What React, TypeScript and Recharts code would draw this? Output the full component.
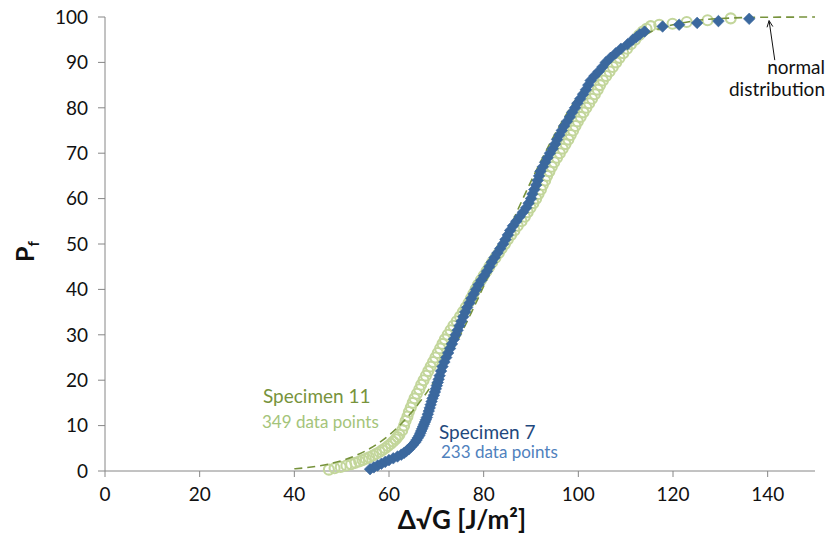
import React from "react";
import { ScatterChart, Scatter, XAxis, YAxis, ReferenceLine } from "recharts";

// Specimen 7 (blue diamonds): cumulative probability P_f [%] and Δ√G values
const spec7P = [0.4,0.8,1.2,1.6,2.0,2.4,2.8,3.2,3.6,4.0,4.4,4.8,5.3,5.8,6.3,6.8,7.3,7.8,8.3,8.8,9.3,9.8,10.3,10.8,11.3,11.8,12.5,13.2,13.9,14.6,15.3,16.0,16.7,17.4,18.1,18.8,19.5,20.2,21,22,23,24,25,26,27,28,29,30,31,32,33,34,35,36,37,38,39,40,41,42,43,44,45,46,47,48,49,50,51,52,53,54,55,56,57,58,59,60,61,62,63,64,65,66,67,68,69,70,71,72,73,74,75,76,77,78,79,80,81,82,83,84,85,86,87,88,89,90,91,92,93,94,95,95.6,96.2,96.8,97.9,98.3,98.7,99.1,99.6];
const spec7X = [56.0,56.8,57.6,58.4,59.2,60.0,60.9,61.8,62.6,63.2,63.7,64.2,64.6,65.1,65.5,65.8,66.1,66.4,66.6,66.8,67.0,67.2,67.4,67.6,67.8,68.0,68.2,68.4,68.6,68.8,69.0,69.2,69.5,69.7,69.9,70.1,70.3,70.5,70.7,71.0,71.3,71.7,72.1,72.5,72.9,73.3,73.7,74.1,74.5,74.9,75.3,75.7,76.1,76.5,77.0,77.4,77.9,78.4,78.9,79.5,80.1,80.7,81.2,81.7,82.3,82.9,83.5,84.1,84.6,85.1,85.6,86.2,86.9,87.6,88.3,89.0,89.5,90.0,90.3,90.7,91.1,91.4,91.7,92.0,92.5,93.0,93.5,94.0,94.6,95.1,95.5,96.0,96.5,97.0,97.6,98.2,98.7,99.3,99.8,100.4,101.0,101.6,102.1,102.6,103.4,104.3,105.1,105.8,106.8,107.9,109.0,110.4,111.5,112.3,113.0,114.0,117.8,121.3,125.1,129.6,136.1];

// Specimen 11 (green open circles)
const spec11P = [0.3,0.6,0.9,1.2,1.5,1.8,2.1,2.4,2.7,3.0,3.4,3.8,4.2,4.6,5.0,5.5,6.0,6.5,7.0,7.5,8,9,10,11,12,13,14,15,16,17,18,19,20,21,22,23,24,25,26,27,28,29,30,31,32,33,34,35,36,37,38,39,40,41,42,43,44,45,46,47,48,49,50,51,52,53,54,55,56,57,58,59,60,61,62,63,64,65,66,67,68,69,70,71,72,73,74,75,76,77,78,79,80,81,82,83,84,85,86,87,88,89,90,91,92,93,94,95,96,96.8,97.4,98.0,98.3,98.5,98.9,99.3,99.7];
const spec11X = [47.3,48.5,49.8,51.0,52.0,52.9,53.7,54.4,55.1,55.8,56.6,57.3,58.0,58.6,59.2,59.8,60.4,60.9,61.4,61.8,62.2,62.8,63.2,63.5,63.9,64.2,64.6,65.0,65.4,65.9,66.4,66.8,67.3,67.8,68.3,68.8,69.3,69.8,70.3,70.8,71.3,71.8,72.4,73.0,73.6,74.3,75.0,75.6,76.2,76.8,77.3,77.8,78.3,78.8,79.4,80.0,80.6,81.2,81.8,82.5,83.2,83.8,84.5,85.1,85.8,86.5,87.2,88.0,88.7,89.3,89.9,90.5,91.1,91.6,92.1,92.5,93.0,93.4,93.9,94.4,94.9,95.5,96.1,96.7,97.3,97.9,98.4,98.9,99.4,99.9,100.5,101.1,101.7,102.3,102.9,103.5,104.1,104.6,105.2,105.9,106.6,107.3,108.0,108.7,109.5,110.3,111.1,112.0,112.8,113.6,114.4,115.3,117.1,119.9,122.9,127.3,132.2];

// Normal distribution fit (dashed)
const normalX = [40,42.5,45,47.5,50,52.5,55,57.5,60,62.5,65,67.5,70,72.5,75,77.5,80,82.5,85,87.5,90,92.5,95,97.5,100,102.5,105,107.5,110,112.5,115,117.5,120,122.5,125,127.5,130,132.5,135,140,145,150];
const normalP = [0.48,0.73,1.09,1.59,2.28,3.19,4.40,5.95,7.90,10.3,13.2,16.6,20.5,24.9,29.8,35.1,40.7,46.5,52.3,58.2,63.8,69.1,74.1,78.6,82.7,86.2,89.2,91.7,93.7,95.3,96.6,97.6,98.3,98.8,99.2,99.5,99.66,99.78,99.87,99.95,99.98,99.99];

const xTicks = [0, 20, 40, 60, 80, 100, 120, 140];
const yTicks = [0, 10, 20, 30, 40, 50, 60, 70, 80, 90, 100];

const zip = (xs: number[], ys: number[]) => xs.map((x, i) => ({ x, y: ys[i] }));
const spec7 = zip(spec7X, spec7P);
const spec11 = zip(spec11X, spec11P);
const normal = zip(normalX, normalP);

const FONT = "Lato, 'Open Sans', sans-serif";
const AXIS = "#868686";
const TICK_FS = 19;

const Diamond = (props: any) => {
  const { cx, cy } = props;
  if (cx == null || cy == null) return <g />;
  const r = 5.8;
  return (
    <polygon
      points={`${cx},${cy - r} ${cx + r},${cy} ${cx},${cy + r} ${cx - r},${cy}`}
      fill="#3b689e"
      stroke="#3b689e"
      strokeWidth={0.6}
    />
  );
};

const Ring = (props: any) => {
  const { cx, cy } = props;
  if (cx == null || cy == null) return <g />;
  return <circle cx={cx} cy={cy} r={5} fill="none" stroke="#c3d69b" strokeWidth={2.1} />;
};

const NoShape = () => <g />;

const XTick = (p: any) => (
  <text x={p.x} y={p.y} dy={TICK_FS * 0.72} textAnchor="middle" fontSize={TICK_FS} fontFamily={FONT} fill="#111">
    {p.payload.value}
  </text>
);

const YTick = (p: any) => (
  <text x={p.x} y={p.y} dy={TICK_FS * 0.36} textAnchor="end" fontSize={TICK_FS} fontFamily={FONT} fill="#111">
    {p.payload.value}
  </text>
);

export default function App() {
  return (
    <div style={{ position: "absolute", left: 0, top: 0, width: 828, height: 542, background: "#fff" }}>
      <ScatterChart
        width={828}
        height={542}
        margin={{ top: 17, right: 13, bottom: 0, left: 45 }}
        style={{ fontFamily: FONT }}
      >
        <XAxis
          type="number"
          dataKey="x"
          domain={[0, 150]}
          ticks={xTicks}
          allowDataOverflow
          height={71}
          stroke={AXIS}
          tickLine={{ stroke: AXIS }}
          tickSize={6}
          tickMargin={10}
          tick={XTick}
        />
        <YAxis
          type="number"
          dataKey="y"
          domain={[0, 100]}
          ticks={yTicks}
          width={60}
          stroke={AXIS}
          tickLine={{ stroke: AXIS }}
          tickSize={7}
          tickMargin={10}
          tick={YTick}
        />
        <Scatter data={spec11} shape={Ring} isAnimationActive={false} />
        <Scatter
          data={normal}
          shape={NoShape}
          line={{ stroke: "#77933c", strokeWidth: 1.6, strokeDasharray: "8 5" }}
          lineJointType="monotoneX"
          isAnimationActive={false}
        />
        <Scatter data={spec7} shape={Diamond} isAnimationActive={false} />
        <ReferenceLine segment={[{ x: 141.5, y: 90.5 }, { x: 140.3, y: 99.2 }]} stroke="#111" strokeWidth={1} />
        <ReferenceLine segment={[{ x: 140.3, y: 99.2 }, { x: 139.87, y: 97.73 }]} stroke="#111" strokeWidth={1} />
        <ReferenceLine segment={[{ x: 140.3, y: 99.2 }, { x: 141.09, y: 97.9 }]} stroke="#111" strokeWidth={1} />
      </ScatterChart>
      <svg
        width={828}
        height={542}
        style={{ position: "absolute", left: 0, top: 0, pointerEvents: "none" }}
        fontFamily={FONT}
      >
        <text x={263} y={403} fontSize={19} fill="#77933c">Specimen 11</text>
        <text x={262} y={428} fontSize={17} fill="#a4c47a">349 data points</text>
        <text x={439} y={439} fontSize={19} fill="#1f497d">Specimen 7</text>
        <text x={441} y={458} fontSize={17} fill="#4f81bd">233 data points</text>
        <text x={825} y={74} fontSize={19} fill="#111" textAnchor="end">normal</text>
        <text x={825} y={96} fontSize={19} fill="#111" textAnchor="end">distribution</text>
        <text x={462} y={529} fontSize={26} fontWeight="bold" fill="#111" textAnchor="middle">Δ√G [J/m²]</text>
        <text transform="translate(34,262) rotate(-90)" fontSize={25} fontWeight="bold" fill="#111">
          P<tspan fontSize={15} dy={5}>f</tspan>
        </text>
      </svg>
    </div>
  );
}
